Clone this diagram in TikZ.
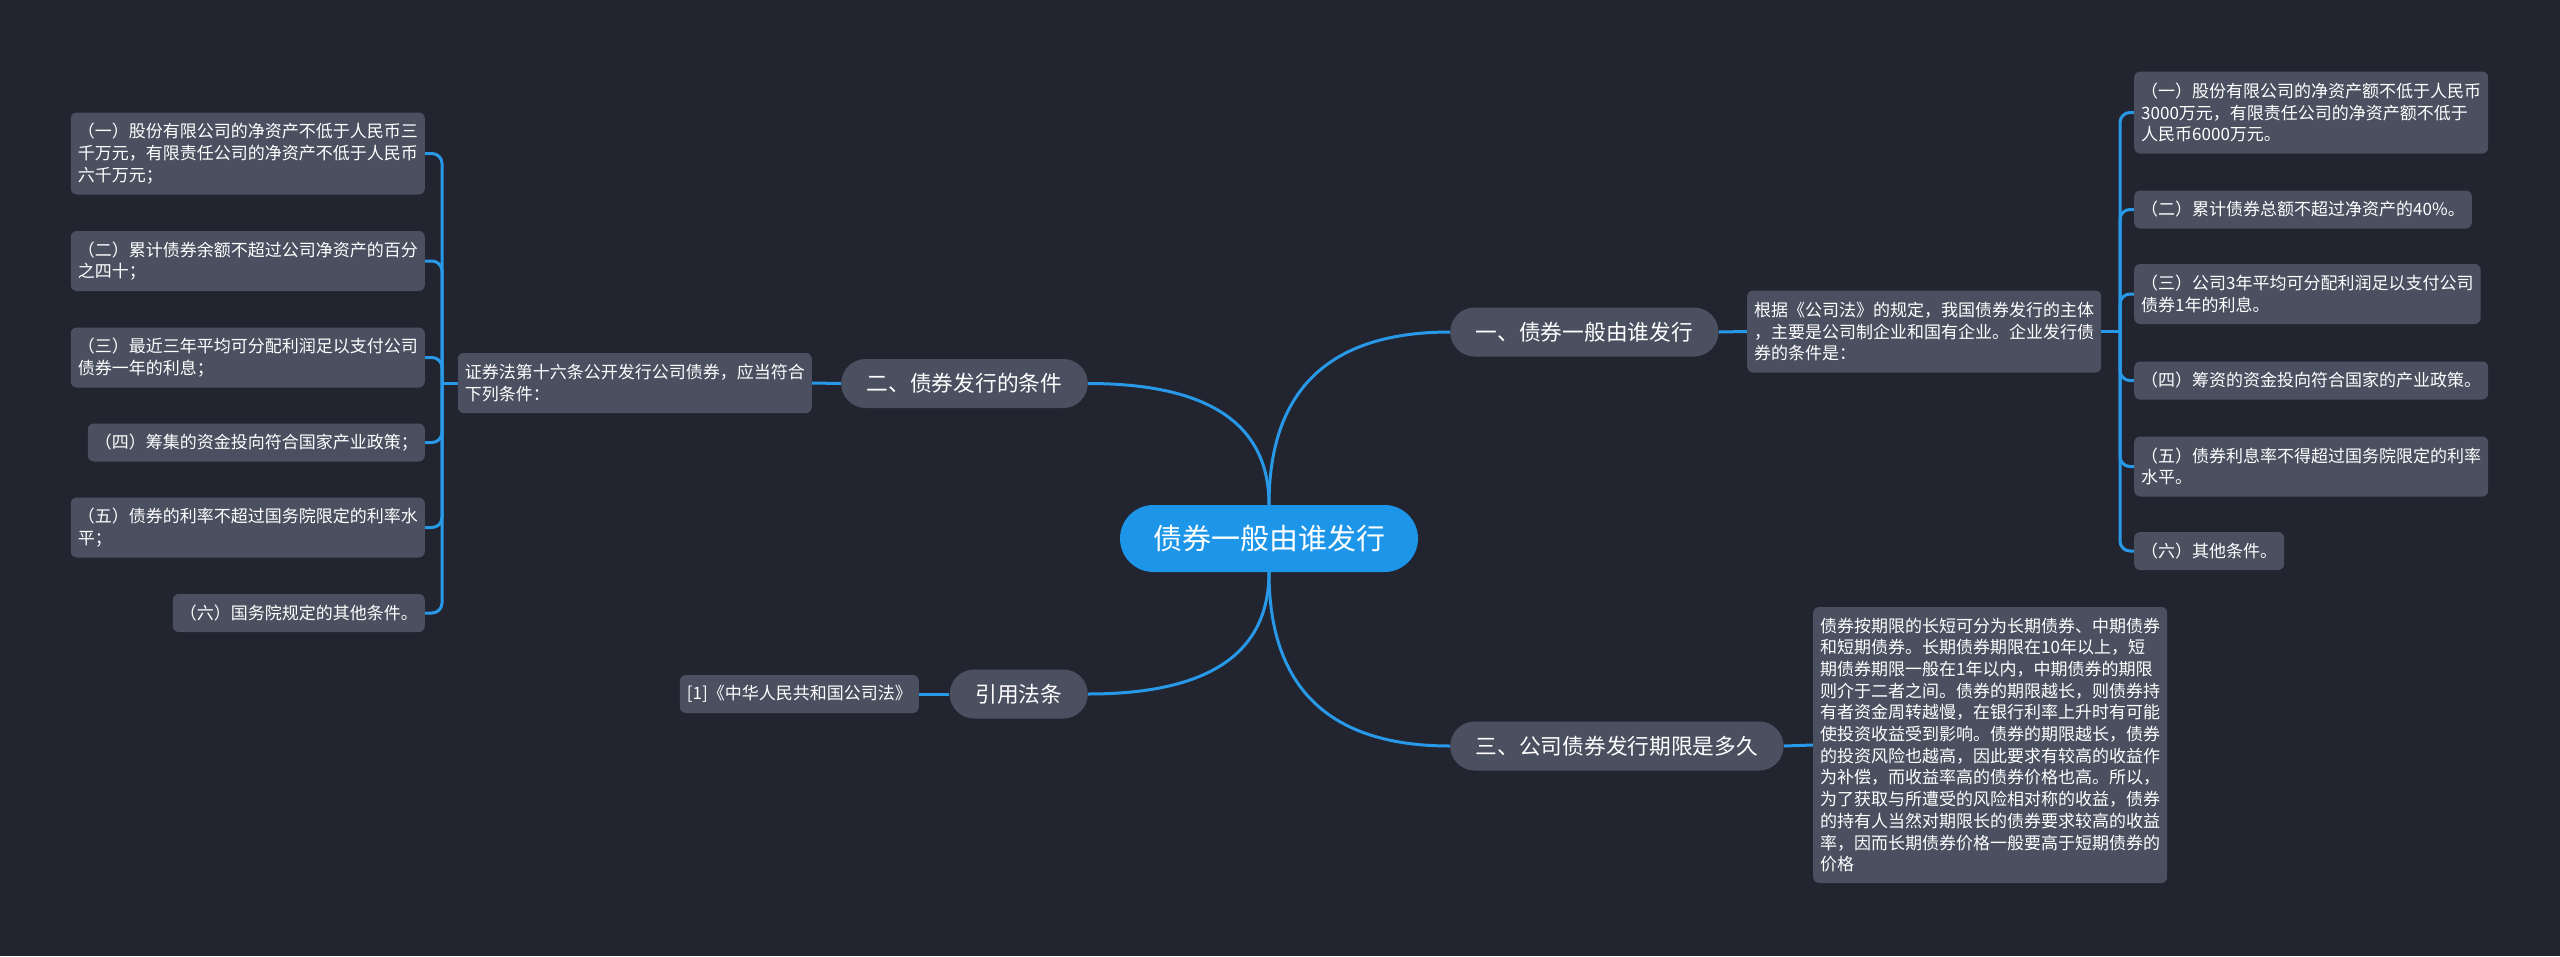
\documentclass[tikz,border=0pt]{standalone}
\usepackage{fontspec}
\setmainfont{Noto Sans CJK SC}
\usetikzlibrary{calc,shapes.misc,backgrounds}
\definecolor{bg}{HTML}{222530}
\definecolor{boxc}{HTML}{4A5060}
\definecolor{rootc}{HTML}{1D96EA}
\definecolor{linec}{HTML}{2899E8}
\tikzset{
  leaf/.style={fill=boxc, rounded corners=6pt, text=white, font=\fontsize{17}{21.7}\selectfont, align=left, inner xsep=7pt, inner ysep=0pt},
  nlone/.style={minimum height=38pt},
  nltwo/.style={minimum height=60pt},
  nlthree/.style={minimum height=82pt},
  branch/.style={rounded rectangle, fill=boxc, text=white, font=\fontsize{21.7}{26}\selectfont, inner xsep=23.5pt, inner ysep=0pt, minimum height=49pt},
  rootnode/.style={rounded rectangle, fill=rootc, text=white, font=\fontsize{29}{34}\selectfont, minimum width=298pt, minimum height=67pt, inner sep=0pt},
  conn/.style={draw=linec, line width=3pt},
  elbow/.style={conn, rounded corners=10pt},
}
\begin{document}
\begin{tikzpicture}[x=1pt,y=-1pt]
\useasboundingbox (0,0) rectangle (2560,956);
% root
\node[rootnode] (root) at (1269,538.5) {债券一般由谁发行};
% branches
\node[branch, anchor=west] (b1) at (1450,332) {一、债券一般由谁发行};
\node[branch, anchor=east] (b2) at (1088,383.5) {二、债券发行的条件};
\node[branch, anchor=west] (b3) at (1450,746) {三、公司债券发行期限是多久};
\node[branch, anchor=east] (b4) at (1088,694) {引用法条};
% children
\node[leaf, nlthree, anchor=west] (c1) at (1747,331.5) {根据《公司法》的规定，我国债券发行的主体\\，主要是公司制企业和国有企业。企业发行债\\券的条件是：};
\node[leaf, nltwo, anchor=east] (c2) at (812,383) {证券法第十六条公开发行公司债券，应当符合\\下列条件：};
\node[leaf, minimum height=276pt, anchor=west] (c3) at (1813,745) {债券按期限的长短可分为长期债券、中期债券\\和短期债券。长期债券期限在10年以上，短\\期债券期限一般在1年以内，中期债券的期限\\则介于二者之间。债券的期限越长，则债券持\\有者资金周转越慢，在银行利率上升时有可能\\使投资收益受到影响。债券的期限越长，债券\\的投资风险也越高，因此要求有较高的收益作\\为补偿，而收益率高的债券价格也高。所以，\\为了获取与所遭受的风险相对称的收益，债券\\的持有人当然对期限长的债券要求较高的收益\\率，因而长期债券价格一般要高于短期债券的\\价格};
\node[leaf, nlone, anchor=east] (c4) at (919,694) {[1]《中华人民共和国公司法》};
% right leaves
\node[leaf, nlthree, anchor=west] (r1) at (2134,112.5) {（一）股份有限公司的净资产额不低于人民币\\3000万元，有限责任公司的净资产额不低于\\人民币6000万元。};
\node[leaf, nlone, anchor=west] (r2) at (2134,209.5) {（二）累计债券总额不超过净资产的40\%。};
\node[leaf, nltwo, anchor=west] (r3) at (2134,294) {（三）公司3年平均可分配利润足以支付公司\\债券1年的利息。};
\node[leaf, nlone, anchor=west] (r4) at (2134,380.5) {（四）筹资的资金投向符合国家的产业政策。};
\node[leaf, nltwo, anchor=west] (r5) at (2134,466.5) {（五）债券利息率不得超过国务院限定的利率\\水平。};
\node[leaf, nlone, anchor=west] (r6) at (2134,551) {（六）其他条件。};
% left leaves
\node[leaf, nlthree, anchor=east] (l1) at (425,153.5) {（一）股份有限公司的净资产不低于人民币三\\千万元，有限责任公司的净资产不低于人民币\\六千万元；};
\node[leaf, nltwo, anchor=east] (l2) at (425,261) {（二）累计债券余额不超过公司净资产的百分\\之四十；};
\node[leaf, nltwo, anchor=east] (l3) at (425,357.5) {（三）最近三年平均可分配利润足以支付公司\\债券一年的利息；};
\node[leaf, nlone, anchor=east] (l4) at (425,442.5) {（四）筹集的资金投向符合国家产业政策；};
\node[leaf, nltwo, anchor=east] (l5) at (425,527.5) {（五）债券的利率不超过国务院限定的利率水\\平；};
\node[leaf, nlone, anchor=east] (l6) at (425,613) {（六）国务院规定的其他条件。};
% junction coordinates
\coordinate (jr) at (2120,331.5);
\coordinate (jl) at (442,383);
\coordinate (k1) at (root.north |- b1.west);
\coordinate (k2) at (root.north |- b2.east);
\coordinate (k3) at (root.south |- b3.west);
\coordinate (k4) at (root.south |- b4.east);
\begin{scope}[on background layer]
\fill[bg] (0,0) rectangle (2560,956);
\draw[conn] (root.north) .. controls ($(root.north)!0.667!(k1)$) and ($(b1.west)!0.667!(k1)$) .. (b1.west);
\draw[conn] (root.north) .. controls ($(root.north)!0.667!(k2)$) and ($(b2.east)!0.667!(k2)$) .. (b2.east);
\draw[conn] (root.south) .. controls ($(root.south)!0.667!(k3)$) and ($(b3.west)!0.667!(k3)$) .. (b3.west);
\draw[conn] (root.south) .. controls ($(root.south)!0.667!(k4)$) and ($(b4.east)!0.667!(k4)$) .. (b4.east);
\draw[conn] (b1.east) -- (c1.west);
\draw[conn] (b2.west) -- (c2.east);
\draw[conn] (b3.east) -- (c3.west);
\draw[conn] (b4.west) -- (c4.east);
\draw[conn] (c1.east) -- (jr);
\draw[conn] (c2.west) -- (jl);
\foreach \n in {r1,r2,r3,r4,r5,r6} {\draw[elbow] (jr) |- (\n.west);}
\foreach \n in {l1,l2,l3,l4,l5,l6} {\draw[elbow] (jl) |- (\n.east);}
\end{scope}
\end{tikzpicture}
\end{document}
